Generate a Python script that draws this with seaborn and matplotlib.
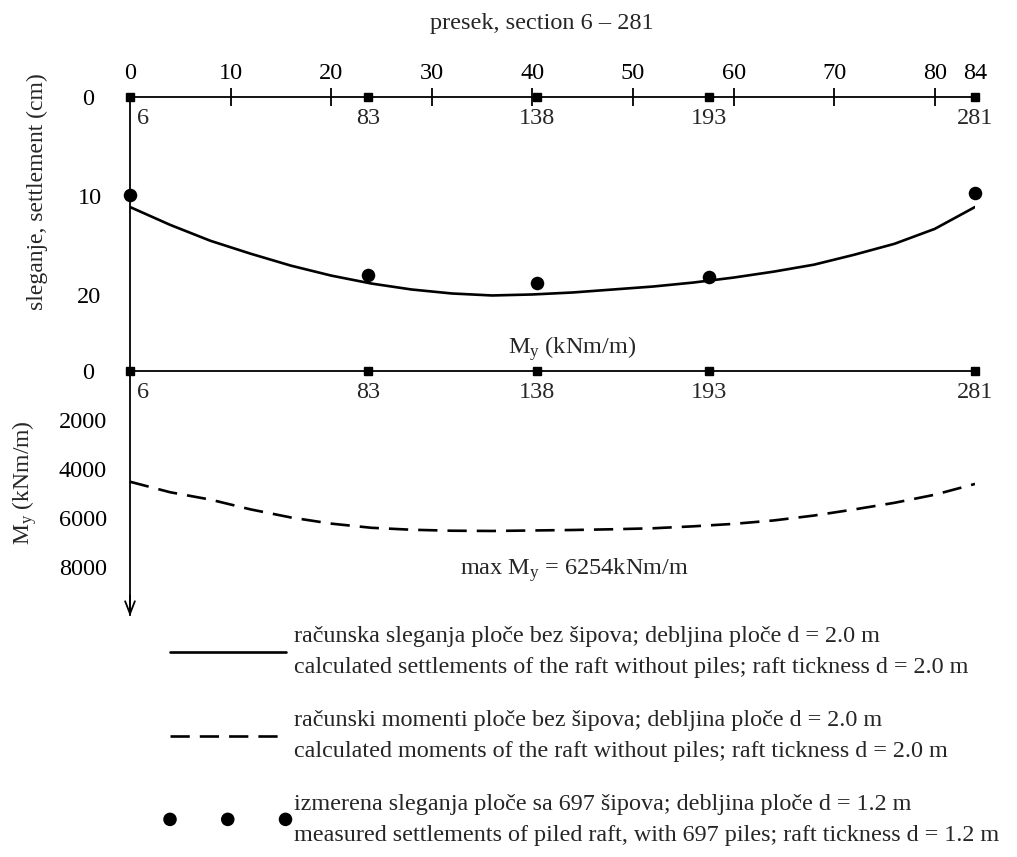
import numpy as np
import matplotlib
matplotlib.use("Agg")
import matplotlib.pyplot as plt
from matplotlib.ticker import FixedLocator, FixedFormatter
from matplotlib.legend_handler import HandlerPathCollection
import seaborn as sns

sns.set_style("white")
plt.rcParams['font.family'] = ['Liberation Serif', 'DejaVu Serif']
plt.rcParams['mathtext.fontset'] = 'custom'
plt.rcParams['mathtext.rm'] = 'Liberation Serif'
plt.rcParams['mathtext.it'] = 'Liberation Serif:italic'

# section positions along the raft (top axis units) and their section numbers
section_pos = [0, 23.7, 40.5, 57.6, 84]
section_names = ['6', '83', '138', '193', '281']

# calculated settlements of raft without piles (cm)
calc_x = [0, 4, 8, 12, 16, 20, 24, 28, 32, 36, 40, 44, 48, 52, 56, 60, 64, 68, 72, 76, 80, 84]
calc_settle = [11.1, 12.9, 14.5, 15.8, 17.0, 18.0, 18.8, 19.4, 19.8, 20.0, 19.9,
               19.7, 19.4, 19.1, 18.7, 18.2, 17.6, 16.9, 15.9, 14.8, 13.3, 11.1]

# calculated moments My (kNm/m)
calc_moment = [4520, 4950, 5250, 5650, 5980, 6230, 6400, 6480, 6520, 6530, 6510,
               6490, 6460, 6420, 6340, 6240, 6100, 5900, 5650, 5380, 5050, 4610]

# measured settlements of piled raft (cm)
meas_x = [0, 23.7, 40.5, 57.6, 84]
meas_settle = [9.9, 17.9, 18.7, 18.1, 9.7]

top_ticks = [0, 10, 20, 30, 40, 50, 60, 70, 80, 84]

W, H = 1017, 857
fig = plt.figure(figsize=(W / 100, H / 100), dpi=100)


def box(l, t, r, b):
    return [l / W, 1 - b / H, (r - l) / W, (b - t) / H]


FS = 17.5

# settlement panel
ax1 = fig.add_axes(box(130, 96.7, 975, 371))
ax1.set_xlim(0, 84)
ax1.set_ylim(27.6, 0)
sns.lineplot(x=calc_x, y=calc_settle, ax=ax1, color='black', lw=1.9,
             errorbar=None, estimator=None)
n_coll = len(ax1.collections)
sns.scatterplot(x=meas_x, y=meas_settle, ax=ax1, color='black', s=95,
                edgecolor='black', linewidth=0, clip_on=False, zorder=5)
meas_handle = ax1.collections[n_coll]
settle_handle = ax1.get_lines()[0]

for sp in ['right', 'bottom']:
    ax1.spines[sp].set_visible(False)
for sp in ['top', 'left']:
    ax1.spines[sp].set_color('black')
    ax1.spines[sp].set_linewidth(1.3)

ax1.xaxis.set_ticks_position('top')
ax1.xaxis.set_major_locator(FixedLocator(top_ticks))
ax1.xaxis.set_major_formatter(FixedFormatter([str(t) for t in top_ticks]))
ax1.tick_params(axis='x', which='major', direction='inout', length=13, width=1.3,
                labelsize=FS, pad=3, colors='black')
ax1.yaxis.set_major_locator(FixedLocator([0, 10, 20]))
ax1.yaxis.set_minor_locator(FixedLocator([5, 15]))
ax1.tick_params(axis='y', which='both', direction='inout', length=13, width=1.3,
                labelsize=FS, pad=14, colors='black')
ax1.set_xlabel('')
ax1.set_ylabel('')
ticks = ax1.xaxis.get_major_ticks()
for i in (0, len(ticks) - 1):
    ticks[i].tick1line.set_visible(False)
    ticks[i].tick2line.set_visible(False)
t0 = ax1.yaxis.get_major_ticks()[0]
t0.tick1line.set_visible(False)
t0.set_pad(19)

# moment panel
ax2 = fig.add_axes(box(130, 371, 975, 615))
ax2.set_xlim(0, 84)
ax2.set_ylim(9960, 0)
sns.lineplot(x=calc_x, y=calc_moment, ax=ax2, color='black', lw=1.9,
             linestyle=(0, (7.3, 3.8)), errorbar=None, estimator=None)
moment_handle = ax2.get_lines()[0]
for sp in ['right', 'bottom']:
    ax2.spines[sp].set_visible(False)
for sp in ['top', 'left']:
    ax2.spines[sp].set_color('black')
    ax2.spines[sp].set_linewidth(1.3)
ax2.set_xticks([])
ax2.yaxis.set_major_locator(FixedLocator([0, 2000, 4000, 6000, 8000]))
ax2.tick_params(axis='y', which='major', direction='inout', length=13, width=1.3,
                labelsize=FS, pad=10, colors='black')
t0 = ax2.yaxis.get_major_ticks()[0]
t0.tick1line.set_visible(False)
t0.set_pad(19)
ax2.set_xlabel('')
ax2.set_ylabel('')
ax2.annotate('', xy=(0, -0.005), xycoords='axes fraction', xytext=(0, 0.08),
             arrowprops=dict(arrowstyle='->,head_length=0.9,head_width=0.35',
                             lw=1.3, color='black', shrinkA=0, shrinkB=0))

# section markers with their numbers on both horizontal axes
for ax in (ax1, ax2):
    ax.plot(section_pos, [0] * len(section_pos), ls='none', marker='s',
            ms=6, color='black', clip_on=False, zorder=6)
    for p, name in zip(section_pos, section_names):
        dx = 9.5 if name == '6' else 0
        ax.annotate(name, xy=(p, 0), xytext=(dx, -8), textcoords='offset points',
                    ha='center', va='top', fontsize=FS)

# texts
fig.text(542 / W, 1 - 23 / H, 'presek, section 6 – 281', ha='center', va='center', fontsize=FS)
fig.text(37 / W, 1 - 192 / H, 'sleganje, settlement (cm)', rotation=90,
         ha='center', va='center', fontsize=17)
fig.text(25 / W, 1 - 483 / H, r'M$_{\rm y}$ (kNm/m)', rotation=90,
         ha='center', va='center', fontsize=17)
fig.text(572 / W, 1 - 349 / H, r'M$_{\rm y}$ (kNm/m)', ha='center', va='center', fontsize=FS)
fig.text(574 / W, 1 - 570 / H, r'max M$_{\rm y}$ = 6254kNm/m', ha='center', va='center',
         fontsize=FS)

# legend
labels = [
    'računska sleganja ploče bez šipova; debljina ploče d = 2.0 m\n'
    'calculated settlements of the raft without piles; raft tickness d = 2.0 m',
    'računski momenti ploče bez šipova; debljina ploče d = 2.0 m\n'
    'calculated moments of the raft without piles; raft tickness d = 2.0 m',
    'izmerena sleganja ploče sa 697 šipova; debljina ploče d = 1.2 m\n'
    'measured settlements of piled raft, with 697 piles; raft tickness d = 1.2 m',
]
LFS = 17.4
leg = fig.legend([settle_handle, moment_handle, meas_handle], labels,
                 loc='upper left', bbox_to_anchor=(170 / W, 1 - 626 / H),
                 frameon=False, fontsize=LFS, handlelength=4.78, handletextpad=0.35,
                 borderpad=0, borderaxespad=0, labelspacing=1.3,
                 scatterpoints=3, scatteryoffsets=[0.5],
                 handler_map={meas_handle: HandlerPathCollection(marker_pad=0)})
for t in leg.get_texts():
    t.set_linespacing(1.65)

fig.savefig('out.png', dpi=100)
